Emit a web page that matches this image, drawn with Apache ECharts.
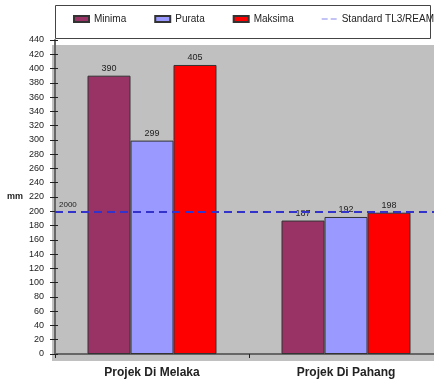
<!DOCTYPE html>
<html>
<head>
<meta charset="utf-8">
<script src="https://cdn.jsdelivr.net/npm/echarts@6/dist/echarts.min.js"></script>
<style>
  html, body { margin: 0; padding: 0; background: #fff; }
  #chart { width: 434px; height: 385px; }
</style>
</head>
<body>
<div id="chart"></div>
<script>
// data
const categories = ['Projek Di Melaka', 'Projek Di Pahang'];
const minima = [390, 187];
const purata = [299, 192];
const maksima = [405, 198];
const standardLine = [200];
const standardLabel = '2000';
const yTicks = [0, 440, 20]; // min, max, step

const font = 'Liberation Sans, Arial, sans-serif';

// two short dashes, with tiny corner marks so the icon keeps its 15x6 box
const dashIcon = 'path://M0,0 L0.01,0 L0.01,0.01 Z M0,2.5 L6,2.5 L6,3.5 L0,3.5 Z ' +
  'M9,2.5 L15,2.5 L15,3.5 L9,3.5 Z M15,6 L14.99,6 L14.99,5.99 Z';

const barSeries = (name, data, color) => ({
  name,
  type: 'bar',
  data,
  barWidth: 43,
  barGap: '0%',
  itemStyle: { color, borderColor: '#333', borderWidth: 1 },
  label: {
    show: true,
    position: 'top',
    distance: 3,
    fontSize: 9,
    fontFamily: font,
    color: '#222'
  }
});

const chart = echarts.init(document.getElementById('chart'));

const option = {
  animation: false,
  graphic: [
    {
      type: 'rect',
      z: -10,
      shape: { x: 52, y: 45, width: 382, height: 316 },
      style: { fill: '#c0c0c0' }
    },
    {
      type: 'rect',
      z: -10,
      shape: { x: 55.5, y: 5.5, width: 375, height: 33 },
      style: { fill: '#fff', stroke: '#444', lineWidth: 1 }
    }
  ],
  legend: {
    top: 14,
    left: 73,
    width: 400,
    padding: 0,
    itemWidth: 15,
    itemHeight: 6,
    itemGap: 28,
    textStyle: { fontSize: 10, fontFamily: font, color: '#222' },
    data: [
      { name: 'Minima', icon: 'rect' },
      { name: 'Purata', icon: 'rect' },
      { name: 'Maksima', icon: 'rect' },
      { name: 'Standard TL3/REAM', icon: dashIcon }
    ]
  },
  grid: {
    left: 55,
    top: 40,
    width: 388,
    bottom: 31,
    outerBoundsMode: 'none'
  },
  xAxis: {
    type: 'category',
    data: categories,
    axisLine: { lineStyle: { color: '#666', width: 2 } },
    axisTick: { show: true, length: 4, lineStyle: { color: '#222' } },
    axisLabel: {
      margin: 13,
      fontSize: 12,
      fontWeight: 'bold',
      fontFamily: font,
      color: '#222'
    }
  },
  yAxis: [
    {
      type: 'value',
      min: yTicks[0],
      max: yTicks[1],
      interval: yTicks[2],
      name: 'mm',
      nameLocation: 'middle',
      nameRotate: 0,
      nameGap: 26,
      nameTextStyle: { fontSize: 9, fontWeight: 'bold', fontFamily: font, color: '#222' },
      axisLine: { show: true, lineStyle: { color: '#666', width: 2 } },
      axisTick: { show: true, length: 5, lineStyle: { color: '#222' } },
      axisLabel: { margin: 11, fontSize: 9, fontFamily: font, color: '#222' },
      splitLine: { show: false }
    },
    {
      // inner half of the cross ticks
      type: 'value',
      position: 'left',
      min: yTicks[0],
      max: yTicks[1],
      interval: yTicks[2],
      axisLine: { show: false },
      axisTick: { show: true, inside: true, length: 3, lineStyle: { color: '#222' } },
      axisLabel: { show: false },
      splitLine: { show: false }
    }
  ],
  series: [
    barSeries('Minima', minima, '#993366'),
    barSeries('Purata', purata, '#9999ff'),
    barSeries('Maksima', maksima, '#ff0000'),
    {
      name: 'Standard TL3/REAM',
      type: 'line',
      data: [],
      symbol: 'none',
      itemStyle: { color: '#8888ee' },
      lineStyle: { color: '#8888ee', type: 'dashed', width: 1 },
      markLine: {
        silent: true,
        symbol: ['none', 'none'],
        lineStyle: { color: '#3333cc', type: [8, 5], width: 2 },
        label: {
          position: 'insideStartTop',
          formatter: standardLabel,
          fontSize: 8,
          fontFamily: font,
          color: '#222',
          distance: [4, 2]
        },
        data: [{ yAxis: standardLine[0] }]
      }
    }
  ]
};

chart.setOption(option);
</script>
</body>
</html>
